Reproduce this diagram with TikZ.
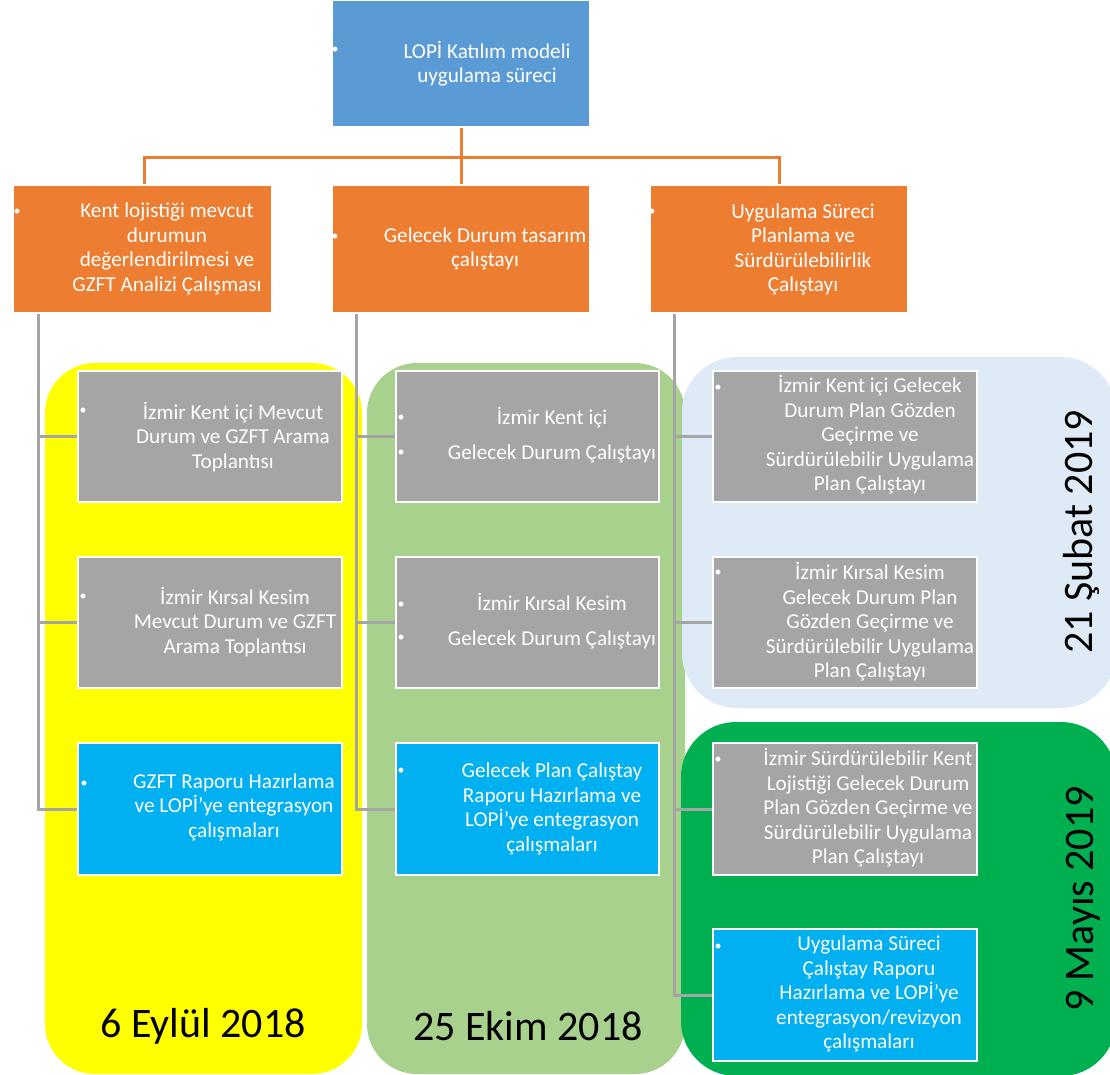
\documentclass[tikz,border=0pt]{standalone}
\usepackage{fontspec}
\setmainfont{Carlito}
\definecolor{topblue}{HTML}{5B9BD5}
\definecolor{orng}{HTML}{ED7D31}
\definecolor{gry}{HTML}{A5A5A5}
\definecolor{cyanbox}{HTML}{00B0F0}
\definecolor{ylw}{HTML}{FFFF00}
\definecolor{lgreen}{HTML}{A9D18E}
\definecolor{lblue}{HTML}{DEEBF7}
\definecolor{dgreen}{HTML}{00B050}
\tikzset{
  boxbase/.style={draw=white, line width=1.5pt, inner sep=0pt, minimum width=264pt, minimum height=131pt},
  topbox/.style={boxbase, fill=topblue},
  obox/.style={boxbase, fill=orng, minimum width=259pt, minimum height=128pt},
  gbox/.style={boxbase, fill=gry},
  bbox/.style={boxbase, fill=cyanbox, minimum height=132pt},
  txt/.style={text=white, align=center, inner sep=0pt, font=\fontsize{21.2}{24.5}\selectfont},
  bul/.style={text=white, inner sep=0pt, font=\fontsize{14}{16}\selectfont},
  oline/.style={draw=orng, line width=3pt},
  gline/.style={draw=gry, line width=3pt},
  datetxt/.style={text=black, inner sep=0pt, font=\fontsize{42}{48}\selectfont},
}
\begin{document}
\begin{tikzpicture}[x=1pt,y=-1pt]
\useasboundingbox (0,0) rectangle (1110,1074);
\clip (0,0) rectangle (1110,1074);
% backgrounds
\fill[ylw, rounded corners=50pt] (45,363) rectangle (362,1074);
\fill[lgreen, rounded corners=50pt] (367,363) rectangle (685,1074);
\fill[lblue, rounded corners=55pt] (682,357) rectangle (1116,708);
\fill[dgreen, rounded corners=55pt] (681,722) rectangle (1116,1076);
% boxes
\node[topbox, minimum width=258pt, minimum height=127pt] (top) at (461,63.5) {};
\node[obox] (oL) at (142.5,249) {};
\node[obox, minimum width=258pt] (oM) at (461,249) {};
\node[obox, minimum width=258pt] (oR) at (779,249) {};
\node[gbox] (gL1) at (210,436.5) {};
\node[gbox] (gL2) at (210,622.5) {};
\node[bbox] (bL) at (210,809) {};
\node[gbox, minimum width=263pt] (gM1) at (527.5,436.5) {};
\node[gbox, minimum width=263pt] (gM2) at (527.5,622.5) {};
\node[bbox, minimum width=263pt] (bM) at (527.5,809) {};
\node[gbox] (gR1) at (845,436.5) {};
\node[gbox] (gR2) at (845,622.5) {};
\node[gbox, minimum height=132pt] (gR3) at (845,809) {};
\node[bbox] (bR) at (845,995) {};
% connectors
\draw[oline] (top.south) -- ++(0,30) -| ([xshift=2pt]oL.north);
\draw[oline] (top.south) -- (oM.north);
\draw[oline] (top.south) -- ++(0,30) -| (oR.north);
\draw[gline] ([xshift=26pt]oL.south west) |- (gL1.west);
\draw[gline] ([xshift=26pt]oL.south west) |- (gL2.west);
\draw[gline] ([xshift=26pt]oL.south west) |- (bL.west);
\draw[gline] ([xshift=25pt]oM.south west) |- (gM1.west);
\draw[gline] ([xshift=25pt]oM.south west) |- (gM2.west);
\draw[gline] ([xshift=25pt]oM.south west) |- (bM.west);
\draw[gline] ([xshift=25pt]oR.south west) |- (gR1.west);
\draw[gline] ([xshift=25pt]oR.south west) |- (gR2.west);
\draw[gline] ([xshift=25pt]oR.south west) |- (gR3.west);
\draw[gline] ([xshift=25pt]oR.south west) |- (bR.west);
% texts
\node[txt] (ttop) at (487,63.5) {LOPİ Katılım modeli\\uygulama süreci};
\node[bul] (btop) at (335,50) {•};
\node[txt] (toL) at (167,249) {Kent lojistiği mevcut\\durumun\\değerlendirilmesi ve\\GZFT Analizi Çalışması};
\node[bul] (boL) at (17,212) {•};
\node[txt] (toM) at (485,249) {Gelecek Durum tasarım\\çalıştayı};
\node[bul] (boM) at (335,237) {•};
\node[txt] (toR) at (803,249.5) {Uygulama Süreci\\Planlama ve\\Sürdürülebilirlik\\Çalıştayı};
\node[bul] (boR) at (652,212) {•};
\node[txt] (tgL1) at (233,437) {İzmir Kent içi Mevcut\\Durum ve GZFT Arama\\Toplantısı};
\node[bul] (bgL1) at (83,411) {•};
\node[txt] (tgL2) at (235,622) {İzmir Kırsal Kesim\\Mevcut Durum ve GZFT\\Arama Toplantısı};
\node[bul] (bgL2) at (83,597) {•};
\node[txt] (tbL) at (234,807) {GZFT Raporu Hazırlama\\ve LOPİ’ye entegrasyon\\çalışmaları};
\node[bul] (bbL) at (84,784) {•};
\node[txt] (tgM1) at (552,435.5) {İzmir Kent içi\\[10.5pt]Gelecek Durum Çalıştayı};
\node[bul] (bgM1a) at (401,418) {•};
\node[bul] (bgM1b) at (401,453) {•};
\node[txt] (tgM2) at (552,621.5) {İzmir Kırsal Kesim\\[10.5pt]Gelecek Durum Çalıştayı};
\node[bul] (bgM2a) at (401,605) {•};
\node[bul] (bgM2b) at (401,638) {•};
\node[txt] (tbM) at (552,809) {Gelecek Plan Çalıştay\\Raporu Hazırlama ve\\LOPİ’ye entegrasyon\\çalışmaları};
\node[bul] (bbM) at (401,771) {•};
\node[txt] (tgR1) at (870,435) {İzmir Kent içi Gelecek\\Durum Plan Gözden\\Geçirme ve\\Sürdürülebilir Uygulama\\Plan Çalıştayı};
\node[bul] (bgR1) at (718,388) {•};
\node[txt] (tgR2) at (870,622) {İzmir Kırsal Kesim\\Gelecek Durum Plan\\Gözden Geçirme ve\\Sürdürülebilir Uygulama\\Plan Çalıştayı};
\node[bul] (bgR2) at (718,573) {•};
\node[txt] (tgR3) at (868,808) {İzmir Sürdürülebilir Kent\\Lojistiği Gelecek Durum\\Plan Gözden Geçirme ve\\Sürdürülebilir Uygulama\\Plan Çalıştayı};
\node[bul] (bgR3) at (718,760) {•};
\node[txt] (tbR) at (869,994) {Uygulama Süreci\\Çalıştay Raporu\\Hazırlama ve LOPİ’ye\\entegrasyon/revizyon\\çalışmaları};
\node[bul] (bbR) at (718,947) {•};
% dates
\node[datetxt, anchor=base] (d1) at (203,1037) {6 Eylül 2018};
\node[datetxt, anchor=base] (d2) at (528,1040) {25 Ekim 2018};
\node[datetxt, anchor=base, rotate=90] (d3) at (1092,532) {21 Şubat 2019};
\node[datetxt, anchor=base, rotate=90] (d4) at (1093,899) {9 Mayıs 2019};
\end{tikzpicture}
\end{document}
